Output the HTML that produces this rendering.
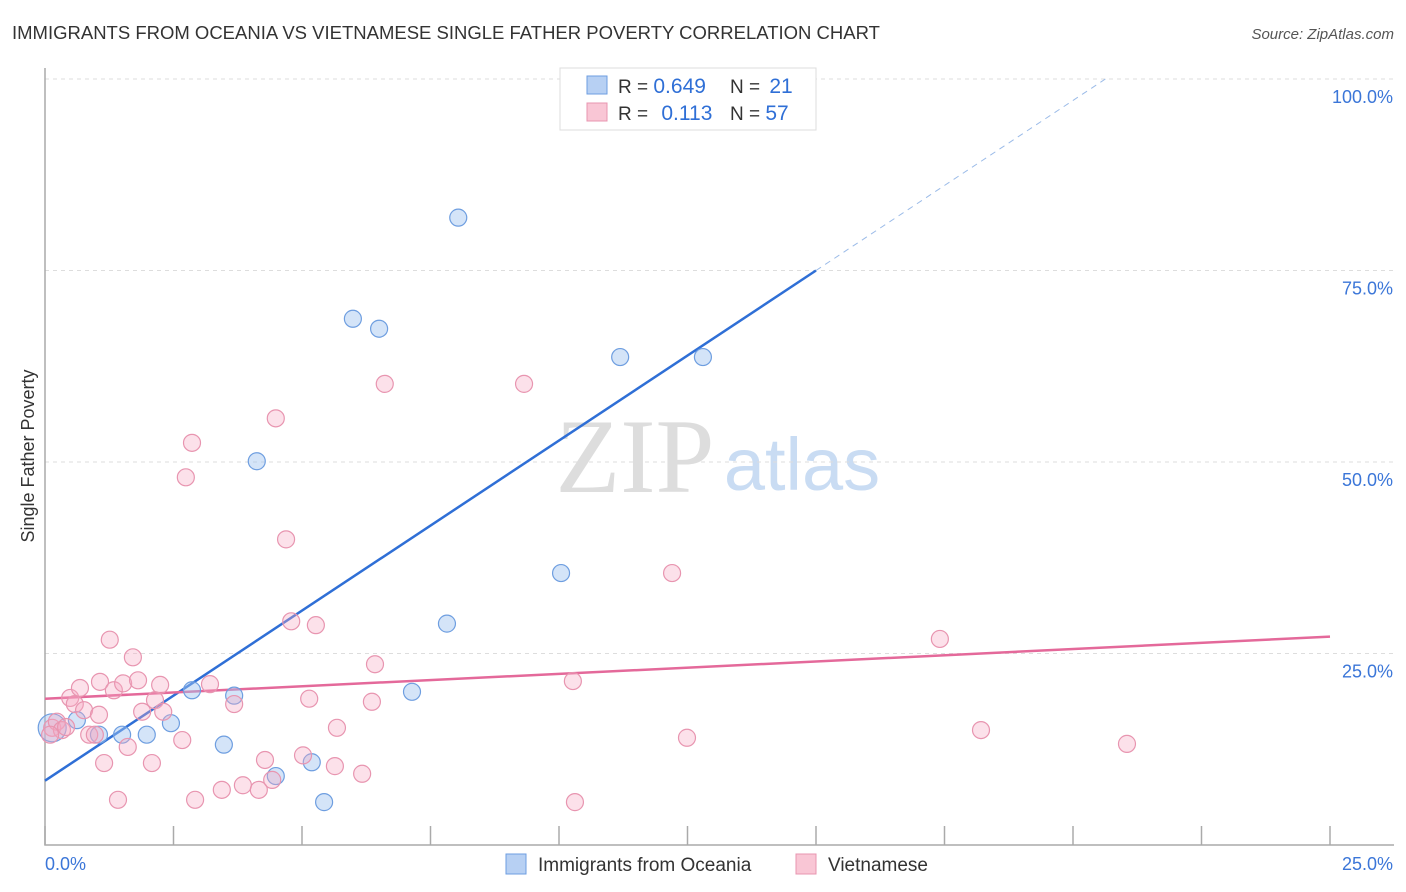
<!DOCTYPE html>
<html><head><meta charset="utf-8"><style>
body{margin:0;background:#fff;font-family:"Liberation Sans",sans-serif}
svg{display:block}
</style></head><body>
<svg width="1406" height="892" xmlns="http://www.w3.org/2000/svg" id="chart">
<text x="12" y="39" font-size="18.5" fill="#333">IMMIGRANTS FROM OCEANIA VS VIETNAMESE SINGLE FATHER POVERTY CORRELATION CHART</text>
<text x="1394" y="39" font-size="15" fill="#555" font-style="italic" text-anchor="end">Source: ZipAtlas.com</text>
<text x="635" y="492" font-size="106" fill="#ddd" font-family="Liberation Serif,serif" text-anchor="middle">ZIP</text>
<text x="802" y="490" font-size="74" fill="#c9dcf3" text-anchor="middle">atlas</text>
<g id="grid"></g>
<g id="axes"></g>
<g id="lines"></g>
<g id="pts"></g>
<text transform="translate(34,456) rotate(-90)" font-size="18" fill="#333" text-anchor="middle">Single Father Poverty</text>
<g>
<rect x="560" y="68" width="256" height="62" fill="#fff" stroke="#ddd"/>
<rect x="587" y="76" width="20" height="18" fill="#b7d0f3" stroke="#6e9ee0"/>
<rect x="587" y="103" width="20" height="18" fill="#f9c6d5" stroke="#e895b0"/>
<text x="618" y="93" font-size="19" fill="#333">R = <tspan fill="#2f6fd6" font-size="21">0.649</tspan></text>
<text x="730" y="93" font-size="19" fill="#333">N = <tspan fill="#2f6fd6" dx="4" font-size="21">21</tspan></text>
<text x="618" y="120" font-size="19" fill="#333">R = <tspan fill="#2f6fd6" dx="8" font-size="21">0.113</tspan></text>
<text x="730" y="120" font-size="19" fill="#333">N = <tspan fill="#2f6fd6" font-size="21">57</tspan></text>
</g>
<g>
<rect x="506" y="854" width="20" height="20" fill="#b7d0f3" stroke="#6e9ee0"/>
<text x="538" y="871" font-size="19" fill="#333">Immigrants from Oceania</text>
<rect x="796" y="854" width="20" height="20" fill="#f9c6d5" stroke="#e895b0"/>
<text x="828" y="871" font-size="19" fill="#333">Vietnamese</text>
</g>
</svg>
<script>
const yTicks=[25,50,75,100];
const yTickLabels=["25.0%","50.0%","75.0%","100.0%"];
const xTickCount=[0,2.5,5,7.5,10,12.5,15,17.5,20,22.5,25];
const blueX=[0.14,0.62,1.05,1.50,1.98,2.45,2.86,3.48,3.68,4.12,4.49,5.19,5.43,5.99,6.50,7.14,7.82,8.04,10.04,11.19,12.80];
const blueY=[15.3,16.3,14.4,14.4,14.4,15.9,20.2,13.1,19.5,50.1,9.0,10.8,5.6,68.7,67.4,20.0,28.9,81.9,35.5,63.7,63.7];
const pinkX=[0.14,0.23,0.33,0.41,0.49,0.58,0.68,0.76,0.86,0.97,1.07,1.05,1.15,1.26,1.34,1.42,1.52,1.61,1.71,1.81,1.89,2.08,2.14,2.24,2.30,2.67,2.74,2.86,2.92,3.21,3.44,3.68,3.85,4.16,4.28,4.42,4.49,4.69,4.79,5.02,5.14,5.27,5.64,5.68,6.17,6.36,6.42,6.61,9.32,10.27,10.31,12.20,12.49,17.41,18.21,21.05,0.10];
const pinkY=[15.3,16.1,15.0,15.4,19.2,18.4,20.5,17.6,14.4,14.4,21.3,17.0,10.7,26.8,20.2,5.9,21.1,12.8,24.5,21.5,17.4,10.7,18.9,20.9,17.4,13.7,48.0,52.5,5.9,21.0,7.2,18.4,7.8,7.2,11.1,8.5,55.7,39.9,29.2,11.7,19.1,28.7,10.3,15.3,9.3,18.7,23.6,60.2,60.2,21.4,5.6,35.5,14.0,26.9,15.0,13.2,14.4];
const blueTrend=[8.4,75.0];
const pinkTrend=[19.1,27.2];
const NS="http://www.w3.org/2000/svg";
const X=v=>45+v*51.4;
const Y=v=>845-v*7.66;
function mk(parent,tag,attrs){const e=document.createElementNS(NS,tag);for(const k in attrs)e.setAttribute(k,attrs[k]);document.getElementById(parent).appendChild(e);return e;}
yTicks.forEach((t,i)=>{
 const l=mk('grid','line',{x1:45,x2:1394,y1:Y(t),y2:Y(t),stroke:'#ddd','stroke-dasharray':'4,4'});
 
 
 const tx=mk('grid','text',{x:1393,y:Y(t)+24,'font-size':18,fill:'#3b76d8','text-anchor':'end'});
 tx.textContent=yTickLabels[i];
 
 
});
const ax=mk('axes','path',{d:'M45,68 V845 H1394',fill:'none',stroke:'#aaa','stroke-width':1.5});


xTickCount.forEach(t=>{
 const tk=mk('axes','line',{x1:X(t),x2:X(t),y1:826,y2:845,stroke:'#aaa','stroke-width':1.5});
 
 
});
const xl0=mk('axes','text',{x:45,y:870,'font-size':18,fill:'#3b76d8'});xl0.textContent='0.0%';


const xl1=mk('axes','text',{x:1393,y:870,'font-size':18,fill:'#3b76d8','text-anchor':'end'});xl1.textContent='25.0%';


const slope=(blueTrend[1]-blueTrend[0])/15;
const bl=mk('lines','line',{x1:X(0),y1:Y(blueTrend[0]),x2:X(15),y2:Y(blueTrend[1]),stroke:'#2f6fd6','stroke-width':2.5});


const xe=(100-blueTrend[0])/slope;
const bd=mk('lines','line',{x1:X(15),y1:Y(blueTrend[1]),x2:X(xe),y2:Y(100),stroke:'#9bbbe8','stroke-width':1,'stroke-dasharray':'6,5'});


const pl=mk('lines','line',{x1:X(0),y1:Y(pinkTrend[0]),x2:X(25),y2:Y(pinkTrend[1]),stroke:'#e4699a','stroke-width':2.5});


blueX.forEach((x,i)=>{
 const c=mk('pts','circle',{cx:X(x),cy:Y(blueY[i]),r:i==0?14:8.5,fill:'rgba(160,195,240,0.45)',stroke:'#6e9ee0','stroke-width':1.2});
 
 
});
pinkX.forEach((x,i)=>{
 const c=mk('pts','circle',{cx:X(x),cy:Y(pinkY[i]),r:8.5,fill:'rgba(245,170,195,0.35)',stroke:'#e895b0','stroke-width':1.2});
 
 
});
</script>
</body></html>
